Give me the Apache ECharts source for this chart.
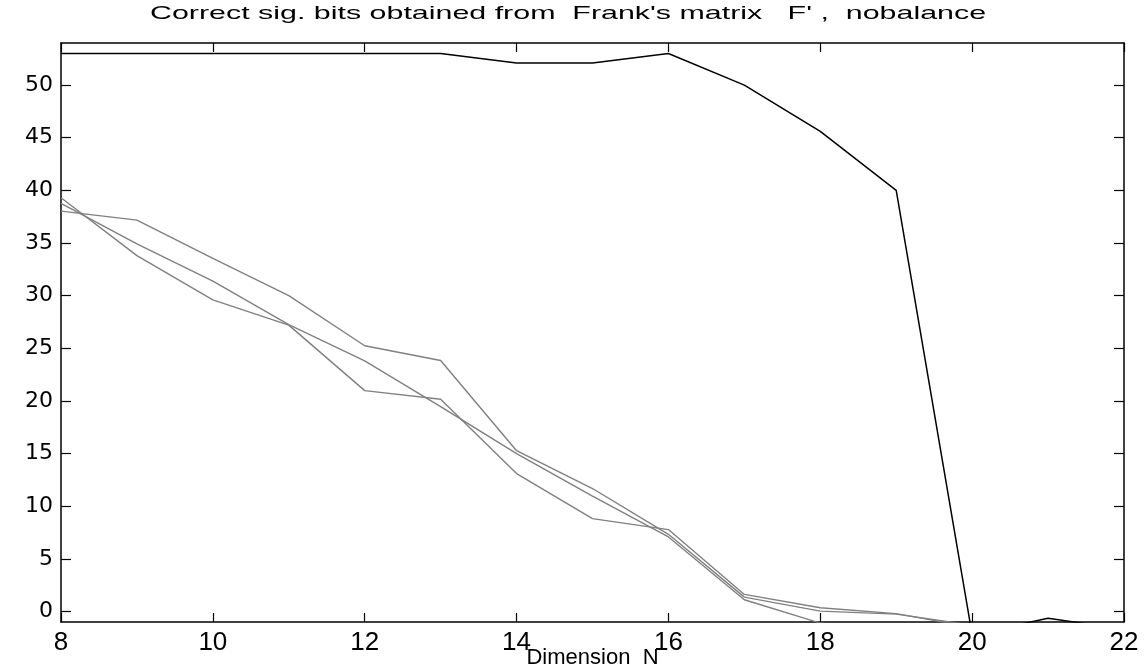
<!DOCTYPE html>
<html>
<head>
<meta charset="utf-8">
<script src="https://cdn.jsdelivr.net/npm/echarts@6/dist/echarts.min.js"></script>
<style>
html,body{margin:0;padding:0;background:#fff;}
#chart{width:1146px;height:669px;}
</style>
</head>
<body>
<div id="chart"></div>
<script>
const titleText = "Correct sig. bits obtained from  Frank's matrix   F' ,  nobalance";
const xAxisName = "Dimension  N";
const dims = [8, 9, 10, 11, 12, 13, 14, 15, 16, 17, 18, 19, 20, 21, 22];
const yTicks = [0, 5, 10, 15, 20, 25, 30, 35, 40, 45, 50];
const blackBits = [53, 53, 53, 53, 53, 53, 52.1, 52.1, 53, 50, 45.6, 40, -2.2, -0.64, -1.7];
const grayA = [39.3, 33.8, 29.6, 27.2, 20.98, 20.16, 13.1, 8.82, 7.78, 1.62, 0.35, -0.2, -1.5];
const grayB = [38.76, 34.92, 31.37, 27.25, 23.81, 19.46, 15.0, 10.95, 7.08, 1.11, -1.1, -2];
const grayC = [38.03, 37.17, 33.55, 30.0, 25.24, 23.84, 15.27, 11.68, 7.33, 1.36, 0.03, -0.25, -1.3];

const pairs = vals => vals.map((v, i) => [dims[i], v]);

const chart = echarts.init(document.getElementById('chart'), null, {renderer: 'canvas'});
const axisLineStyle = {color: '#000', width: 1.5};
const tickStyle = {color: '#000', width: 1.2};
const sansFont = '"Liberation Sans", Arial, Helvetica, sans-serif';

const lineSeries = (vals, color, w) => ({
  type: 'line',
  data: pairs(vals),
  showSymbol: false,
  symbol: 'none',
  clip: true,
  lineStyle: {color: color, width: w},
  itemStyle: {color: color},
  emphasis: {disabled: true},
  xAxisIndex: 0,
  yAxisIndex: 0,
  z: 3
});

chart.setOption({
  animation: false,
  backgroundColor: '#fff',
  graphic: [{
    type: 'text',
    x: 568,
    y: 14,
    scaleX: 1.6,
    scaleY: 1,
    style: {
      text: titleText,
      fill: '#000',
      font: '19px "Liberation Sans", Arial, sans-serif',
      textAlign: 'center',
      textVerticalAlign: 'middle'
    }
  }],
  grid: {left: 61, right: 22, top: 43, bottom: 47, containLabel: false, outerBoundsMode: 'none'},
  xAxis: [{
    type: 'value', min: 8, max: 22, interval: 2, position: 'bottom',
    name: xAxisName, nameLocation: 'middle', nameGap: 25, nameMoveOverlap: false,
    nameTextStyle: {color: '#000', fontSize: 22, fontFamily: sansFont, verticalAlign: 'top'},
    axisLine: {show: true, onZero: false, lineStyle: axisLineStyle},
    axisTick: {show: true, inside: true, length: 9, lineStyle: tickStyle},
    axisLabel: {color: '#000', fontSize: 26, margin: 8, fontFamily: sansFont},
    splitLine: {show: false}
  }, {
    type: 'value', min: 8, max: 22, interval: 2, position: 'top',
    axisLine: {show: true, onZero: false, lineStyle: axisLineStyle},
    axisTick: {show: true, inside: true, length: 9, lineStyle: tickStyle},
    axisLabel: {show: false},
    splitLine: {show: false}
  }],
  yAxis: [{
    type: 'value', min: -1, max: 54, position: 'left',
    axisLine: {show: true, onZero: false, lineStyle: axisLineStyle},
    axisTick: {show: true, inside: true, length: 10, lineStyle: tickStyle, customValues: yTicks},
    axisLabel: {color: '#000', fontSize: 22, margin: 8, fontFamily: '"DejaVu Sans", Verdana, sans-serif', customValues: yTicks},
    splitLine: {show: false}
  }, {
    type: 'value', min: -1, max: 54, position: 'right',
    axisLine: {show: true, onZero: false, lineStyle: axisLineStyle},
    axisTick: {show: true, inside: true, length: 10, lineStyle: tickStyle, customValues: yTicks},
    axisLabel: {show: false},
    splitLine: {show: false}
  }],
  series: [
    lineSeries(grayA, '#808080', 1.4),
    lineSeries(grayB, '#808080', 1.4),
    lineSeries(grayC, '#808080', 1.4),
    lineSeries(blackBits, '#000000', 1.5)
  ]
});
</script>
</body>
</html>
